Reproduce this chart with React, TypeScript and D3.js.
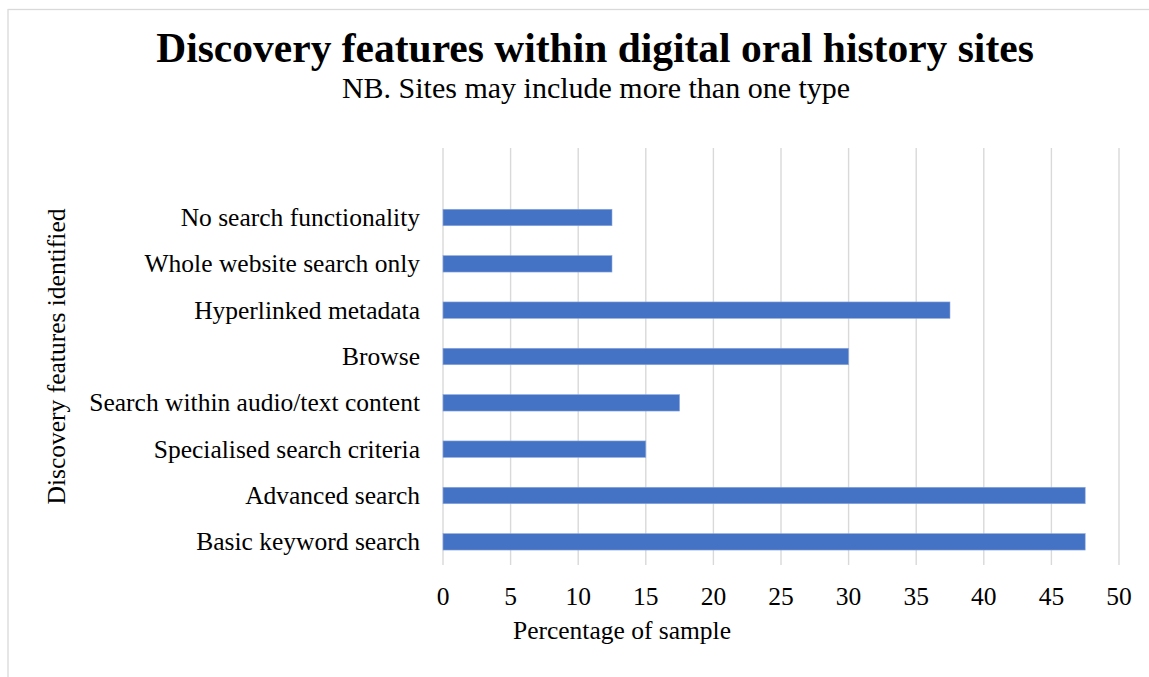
import React from "react";
import * as d3 from "d3";

const categories = [
  "Basic keyword search",
  "Advanced search",
  "Specialised search criteria",
  "Search within audio/text content",
  "Browse",
  "Hyperlinked metadata",
  "Whole website search only",
  "No search functionality",
];
const percentages = [47.5, 47.5, 15, 17.5, 30, 37.5, 12.5, 12.5];
const xTicks = [0, 5, 10, 15, 20, 25, 30, 35, 40, 45, 50];

const W = 1149;
const H = 677;
const FONT = "'Liberation Serif', 'DejaVu Serif', serif";
const BAR = "#4472C4";
const GRID = "#d9d9d9";
const LABEL_SIZE = 25.5;

export default function App() {
  const plotLeft = 443;
  const plotRight = 1119;
  const plotTop = 148;
  const plotBottom = 565;
  // one empty slot above the first category
  const slot = (plotBottom - plotTop) / (categories.length + 1);

  const x = d3.scaleLinear().domain([0, 50]).range([plotLeft, plotRight]);
  const y = d3
    .scaleBand<string>()
    .domain(categories)
    .range([plotBottom, plotTop + slot])
    .paddingInner(0.645)
    .paddingOuter(0.3225);

  return (
    <svg
      width={W}
      height={H}
      viewBox={`0 0 ${W} ${H}`}
      style={{ position: "absolute", left: 0, top: 0, background: "#fff" }}
      fontFamily={FONT}
    >
      <rect x={8} y={9.5} width={W + 10} height={H + 10} fill="#fff" stroke="#d9d9d9" strokeWidth={1.3} />

      <text x={595} y={62} textAnchor="middle" fontSize={41.5} fontWeight="bold" fill="#000">
        Discovery features within digital oral history sites
      </text>
      <text x={596} y={98} textAnchor="middle" fontSize={30} fill="#000">
        NB. Sites may include more than one type
      </text>

      {xTicks.map((t) => (
        <line key={`g${t}`} x1={x(t)} x2={x(t)} y1={plotTop} y2={plotBottom} stroke={GRID} strokeWidth={1.4} />
      ))}

      {categories.map((c, i) => (
        <rect
          key={c}
          x={x(0)}
          y={y(c)!}
          width={x(percentages[i]) - x(0)}
          height={y.bandwidth()}
          fill={BAR}
          stroke="#8faadc"
          strokeWidth={0.6}
        />
      ))}

      {categories.map((c) => (
        <text
          key={`l${c}`}
          x={420}
          y={y(c)! + y.bandwidth() / 2}
          dy="0.33em"
          textAnchor="end"
          fontSize={LABEL_SIZE}
          fill="#000"
        >
          {c}
        </text>
      ))}

      {xTicks.map((t) => (
        <text key={`t${t}`} x={x(t)} y={605} textAnchor="middle" fontSize={LABEL_SIZE} fill="#000">
          {t}
        </text>
      ))}

      <text x={622} y={639} textAnchor="middle" fontSize={LABEL_SIZE} fill="#000">
        Percentage of sample
      </text>
      <text
        transform={`translate(65, ${(plotTop + plotBottom) / 2}) rotate(-90)`}
        textAnchor="middle"
        fontSize={LABEL_SIZE}
        fill="#000"
      >
        Discovery features identified
      </text>
    </svg>
  );
}
